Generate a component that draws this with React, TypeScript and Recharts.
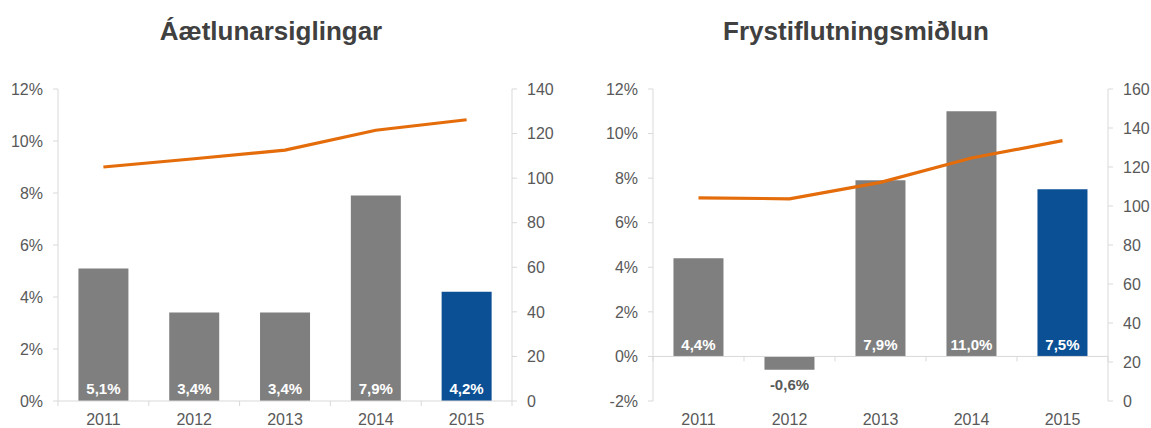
import React from 'react';
import { ComposedChart, Bar, Line, XAxis, YAxis, Cell, LabelList, ReferenceLine } from 'recharts';

const years = ['2011', '2012', '2013', '2014', '2015'];
const growthA = [5.1, 3.4, 3.4, 7.9, 4.2];
const indexA = [105, 108.7, 112.6, 121.5, 126.2];
const growthB = [4.4, -0.6, 7.9, 11.0, 7.5];
const indexB = [104.2, 103.7, 112.1, 124.6, 133.5];
const leftTicksA = [0, 2, 4, 6, 8, 10, 12];
const rightTicksA = [0, 20, 40, 60, 80, 100, 120, 140];
const leftTicksB = [-2, 0, 2, 4, 6, 8, 10, 12];
const rightTicksB = [0, 20, 40, 60, 80, 100, 120, 140, 160];
const titleA = 'Áætlunarsiglingar';
const titleB = 'Frystiflutningsmiðlun';

const dataA = years.map((y, i) => ({ year: y, growth: growthA[i], index: indexA[i] }));
const dataB = years.map((y, i) => ({ year: y, growth: growthB[i], index: indexB[i] }));

const GRAY = '#7f7f7f';
const BLUE = '#0b4f94';
const ORANGE = '#e46c0a';
const AXIS = '#d9d9d9';
const TEXT = '#595959';
const FONT = '"Liberation Sans", Arial, sans-serif';

const fmt = (v: number) => v.toFixed(1).replace('.', ',') + '%';

const BarLabel = (props: any) => {
  const vb = props.viewBox && props.viewBox.width !== undefined ? props.viewBox : props;
  const { x, y, width, height } = vb;
  const value = props.value;
  const bottom = Math.max(y, y + height);
  const cx = x + width / 2;
  if (value >= 0) {
    return (
      <text x={cx} y={bottom - 12} dy="0.35em" textAnchor="middle" fill="#ffffff"
        fontFamily={FONT} fontSize={15} fontWeight="bold">{fmt(value)}</text>
    );
  }
  return (
    <text x={cx} y={bottom + 15} dy="0.35em" textAnchor="middle" fill={TEXT}
      fontFamily={FONT} fontSize={15} fontWeight="bold">{fmt(value)}</text>
  );
};

const ZeroAxis = (props: any) => {
  const { x1, x2, y1 } = props;
  const n = years.length;
  const step = (x2 - x1) / n;
  const marks = [];
  for (let i = 0; i <= n; i++) {
    marks.push(<line key={i} x1={x1 + step * i} x2={x1 + step * i} y1={y1} y2={y1 + 5} stroke={AXIS} strokeWidth={1} />);
  }
  return (
    <g>
      <line x1={x1} x2={x2} y1={y1} y2={y1} stroke={AXIS} strokeWidth={1} />
      {marks}
    </g>
  );
};

const tickStyle = { fill: TEXT, fontSize: 16, fontFamily: FONT };

function Panel(props: any) {
  const { data, leftTicks, rightTicks, leftWidth, rightWidth, marginRight, width } = props;
  const lDomain = [leftTicks[0], leftTicks[leftTicks.length - 1]];
  const rDomain = [rightTicks[0], rightTicks[rightTicks.length - 1]];
  return (
    <ComposedChart width={width} height={428} data={data}
      margin={{ top: 89, right: marginRight, bottom: 0, left: 0 }}
      barCategoryGap="22.5%">
      <XAxis dataKey="year" xAxisId="x" axisLine={false} tickLine={false} height={27}
        tick={tickStyle} tickMargin={7} />
      <YAxis yAxisId="left" orientation="left" domain={lDomain} ticks={leftTicks}
        width={leftWidth} tickFormatter={(v: number) => v + '%'} tick={tickStyle}
        axisLine={{ stroke: AXIS }} tickLine={{ stroke: AXIS }} tickSize={5} tickMargin={10}
        allowDataOverflow interval={0} />
      <YAxis yAxisId="right" orientation="right" domain={rDomain} ticks={rightTicks}
        width={rightWidth} tick={tickStyle}
        axisLine={{ stroke: AXIS }} tickLine={{ stroke: AXIS }} tickSize={5} tickMargin={10}
        allowDataOverflow interval={0} />
      <Bar dataKey="growth" xAxisId="x" yAxisId="left" isAnimationActive={false}>
        {data.map((d: any, i: number) => (
          <Cell key={d.year} fill={i === data.length - 1 ? BLUE : GRAY} />
        ))}
        <LabelList dataKey="growth" content={BarLabel} />
      </Bar>
      <ReferenceLine y={0} xAxisId="x" yAxisId="left" shape={ZeroAxis} />
      <Line dataKey="index" xAxisId="x" yAxisId="right" stroke={ORANGE} strokeWidth={3.2}
        dot={false} activeDot={false} isAnimationActive={false} />
    </ComposedChart>
  );
}

const titleStyle: React.CSSProperties = {
  position: 'absolute', top: 15, fontFamily: FONT, fontWeight: 'bold', fontSize: 26,
  color: '#404040', textAlign: 'center', lineHeight: '32px', whiteSpace: 'nowrap',
};

export default function App() {
  return (
    <div style={{ position: 'absolute', left: 0, top: 0, width: 1151, height: 428, background: '#fff', overflow: 'hidden' }}>
      <div style={{ ...titleStyle, left: 0, width: 542 }}>{titleA}</div>
      <div style={{ ...titleStyle, left: 575, width: 562 }}>{titleB}</div>
      <div style={{ position: 'absolute', left: 0, top: 0 }}>
        <Panel data={dataA} leftTicks={leftTicksA} rightTicks={rightTicksA}
          leftWidth={58} rightWidth={60} marginRight={3} width={575} />
      </div>
      <div style={{ position: 'absolute', left: 575, top: 0 }}>
        <Panel data={dataB} leftTicks={leftTicksB} rightTicks={rightTicksB}
          leftWidth={78} rightWidth={43} marginRight={0} width={576} />
      </div>
    </div>
  );
}
